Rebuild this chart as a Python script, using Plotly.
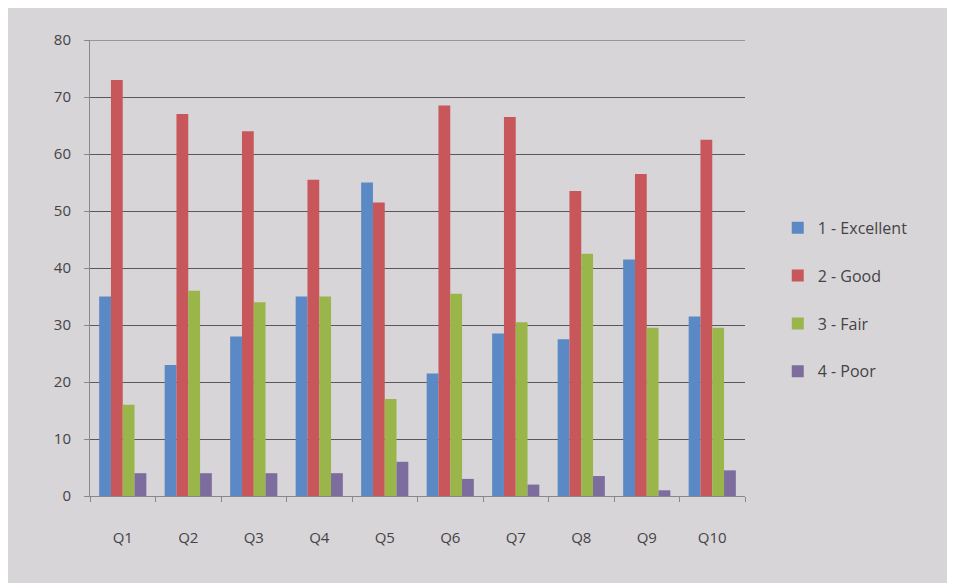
import plotly.graph_objects as go

categories = ["Q1", "Q2", "Q3", "Q4", "Q5", "Q6", "Q7", "Q8", "Q9", "Q10"]
excellent = [35, 23, 28, 35, 55, 21.5, 28.5, 27.5, 41.5, 31.5]
good = [73, 67, 64, 55.5, 51.5, 68.5, 66.5, 53.5, 56.5, 62.5]
fair = [16, 36, 34, 35, 17, 35.5, 30.5, 42.5, 29.5, 29.5]
poor = [4, 4, 4, 4, 6, 3, 2, 3.5, 1, 4.5]

series_names = ["1 - Excellent", "2 - Good", "3 - Fair", "4 - Poor"]
series_values = [excellent, good, fair, poor]
colors = ["#5a89c6", "#c8575b", "#9ab64a", "#7d6c9e"]

fig = go.Figure()
for i, (name, vals, col) in enumerate(zip(series_names, series_values, colors)):
    fig.add_trace(go.Bar(x=categories, y=vals, name=name, marker_color=col,
                         marker_line_width=0, legendgroup=f"g{i}"))

bg = "#d7d5d8"
fig.update_layout(
    width=955, height=583,
    paper_bgcolor=bg, plot_bgcolor=bg,
    barmode="group", bargap=0.28, bargroupgap=0,
    margin=dict(l=82, r=218, t=32, b=95),
    font=dict(family="Open Sans, Liberation Sans, sans-serif", size=15, color="#454345"),
    legend=dict(x=1.05, y=0.43, xanchor="left", yanchor="middle",
                tracegroupgap=24, bgcolor="rgba(0,0,0,0)",
                font=dict(size=16)),
    xaxis=dict(showline=True, linecolor="#8a888a", linewidth=1,
               ticks="outside", tickcolor="#8a888a", ticklen=5,
               tickson="boundaries", showgrid=False, ticklabelstandoff=28),
    yaxis=dict(range=[0, 80], dtick=10, showgrid=True, gridcolor="#5a585a",
               gridwidth=1, showline=True, linecolor="#8a888a",
               ticks="outside", tickcolor="#8a888a", ticklen=5,
               zeroline=False, ticklabelstandoff=10),
    shapes=[dict(type="line", xref="paper", yref="y", x0=0, x1=1, y0=80, y1=80,
                 line=dict(color="#5a585a", width=1), layer="below")],
)

fig.write_html("out.html")
